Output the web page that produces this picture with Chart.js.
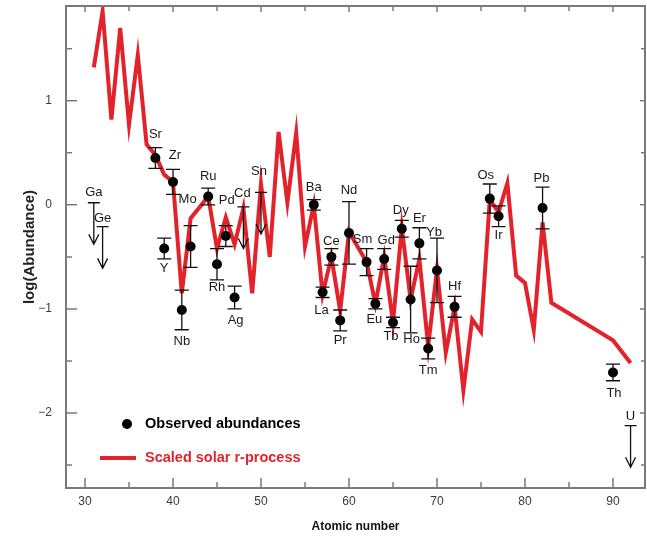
<!DOCTYPE html>
<html>
<head>
<meta charset="utf-8">
<script src="https://cdn.jsdelivr.net/npm/chart.js@4.4.0/dist/chart.umd.min.js"></script>
<style>
  html, body { margin: 0; padding: 0; background: #fff; }
  #wrap { width: 647px; height: 539px; }
</style>
</head>
<body>
<div id="wrap"><canvas id="abund" width="647" height="539"></canvas></div>
<script>
// ---- data ----

// scaled solar r-process curve (atomic number, log abundance)
const rZ = [31, 32, 33, 34, 35, 36, 37, 38, 39, 40, 41, 42, 44, 45, 46, 47, 48, 49, 50,
  51, 52, 53, 54, 55, 56, 57, 58, 59, 60, 62, 63, 64, 65, 66, 67, 68, 69, 70,
  71, 72, 73, 74, 75, 76, 77, 78, 79, 80, 81, 82, 83, 90, 92];
const rLog = [1.32, 1.86, 0.82, 1.70, 0.77, 1.44, 0.58, 0.48, 0.29, 0.22, -0.85, -0.13, 0.08, -0.42, -0.12, -0.38, -0.03, -0.85, 0.20,
  -0.50, 0.70, 0.02, 0.69, -0.40, 0.00, -0.86, -0.50, -1.02, -0.26, -0.55, -0.95, -0.50, -1.13, -0.22, -0.91, -0.52, -1.36, -0.62,
  -1.42, -0.98, -1.78, -1.10, -1.22, 0.05, -0.07, 0.21, -0.68, -0.75, -1.20, -0.17, -0.94, -1.30, -1.52];

// observed abundances with symmetric errors
const obsName = ["Sr", "Y", "Zr", "Nb", "Mo", "Ru", "Rh", "Pd", "Ag", "Ba", "La", "Ce", "Pr", "Nd",
  "Sm", "Eu", "Gd", "Tb", "Dy", "Ho", "Er", "Tm", "Yb", "Hf", "Os", "Ir", "Pb", "Th"];
const obsZ = [38, 39, 40, 41, 42, 44, 45, 46, 47, 56, 57, 58, 59, 60,
  62, 63, 64, 65, 66, 67, 68, 69, 70, 72, 76, 77, 82, 90];
const obsLog = [0.45, -0.42, 0.22, -1.01, -0.40, 0.08, -0.57, -0.30, -0.89, 0.00, -0.84, -0.50, -1.11, -0.27,
  -0.55, -0.95, -0.52, -1.13, -0.23, -0.91, -0.37, -1.38, -0.63, -0.98, 0.06, -0.11, -0.03, -1.61];
const obsErr = [0.10, 0.10, 0.12, 0.19, 0.20, 0.08, 0.15, 0.10, 0.11, 0.05, 0.05, 0.08, 0.10, 0.30,
  0.13, 0.05, 0.10, 0.05, 0.08, 0.32, 0.15, 0.10, 0.31, 0.10, 0.14, 0.10, 0.20, 0.08];

// upper limits
const limName = ["Ga", "Ge", "Cd", "Sn", "U"];
const limZ = [31, 32, 48, 50, 92];
const limLog = [0.02, -0.21, -0.02, 0.12, -2.12];
const limDrop = 0.4;

const xTicks = [30, 40, 50, 60, 70, 80, 90];
const xMinor = [35, 45, 55, 65, 75, 85];
const yTicks = [-2, -1, 0, 1];
const yMinor = [-2.5, -1.5, -0.5, 0.5, 1.5];

// ---- layout / style ----
const RED = "#e3232b";
const FONT = "'Liberation Sans', Arial, Helvetica, sans-serif";

// label offsets in px from the point (or limit bar)
const labelOffset = {
  Sr: [0, -24], Y: [0, 20], Zr: [2, -27], Nb: [0, 31], Mo: [-3, -47], Ru: [0, -20], Rh: [0, 23],
  Pd: [1, -36], Ag: [1, 23], Ba: [0, -17], La: [-1, 18], Ce: [0, -15], Pr: [0, 20], Nd: [0, -43],
  Sm: [-4, -23], Eu: [-1, 16], Gd: [2, -19], Tb: [-2, 14], Dy: [-1, -18], Ho: [1, 40], Er: [0, -25],
  Tm: [0, 22], Yb: [-3, -38], Hf: [0, -20], Os: [-4, -23], Ir: [0, 19], Pb: [-1, -30], Th: [1, 21],
  Ga: [0, -10], Ge: [0, -8], Cd: [-1, -13], Sn: [-2, -21], U: [0, -9]
};

const annotate = {
  id: "annotate",
  afterDatasetsDraw(chart) {
    const { ctx, scales: { x, y } } = chart;
    ctx.save();
    ctx.strokeStyle = "#111";
    ctx.lineWidth = 1.3;

    // error bars
    obsZ.forEach((z, i) => {
      const px = x.getPixelForValue(z);
      const hi = y.getPixelForValue(obsLog[i] + obsErr[i]);
      const lo = y.getPixelForValue(obsLog[i] - obsErr[i]);
      ctx.beginPath();
      ctx.moveTo(px, hi); ctx.lineTo(px, lo);
      ctx.moveTo(px - 7, hi); ctx.lineTo(px + 7, hi);
      ctx.moveTo(px - 7, lo); ctx.lineTo(px + 7, lo);
      ctx.stroke();
    });

    // upper limit arrows
    limZ.forEach((z, i) => {
      const px = x.getPixelForValue(z);
      const top = y.getPixelForValue(limLog[i]);
      const tip = y.getPixelForValue(limLog[i] - limDrop);
      ctx.beginPath();
      ctx.moveTo(px - 6, top); ctx.lineTo(px + 6, top);
      ctx.moveTo(px, top); ctx.lineTo(px, tip);
      ctx.moveTo(px - 5, tip - 10); ctx.lineTo(px, tip); ctx.lineTo(px + 5, tip - 10);
      ctx.stroke();
    });

    // element labels
    ctx.fillStyle = "#1a1a1a";
    ctx.font = "13px " + FONT;
    ctx.textAlign = "center";
    ctx.textBaseline = "middle";
    obsName.forEach((n, i) => {
      const [dx, dy] = labelOffset[n];
      ctx.fillText(n, x.getPixelForValue(obsZ[i]) + dx, y.getPixelForValue(obsLog[i]) + dy);
    });
    limName.forEach((n, i) => {
      const [dx, dy] = labelOffset[n];
      ctx.fillText(n, x.getPixelForValue(limZ[i]) + dx, y.getPixelForValue(limLog[i]) + dy);
    });
    ctx.restore();
  },
  afterDraw(chart) {
    const { ctx, chartArea: a, scales: { x, y } } = chart;
    ctx.save();

    // legend inside the plot
    ctx.fillStyle = "#000";
    ctx.beginPath();
    ctx.arc(127, 424, 5, 0, Math.PI * 2);
    ctx.fill();
    ctx.font = "bold 14.5px " + FONT;
    ctx.textBaseline = "middle";
    ctx.textAlign = "left";
    ctx.fillText("Observed abundances", 145, 424);
    ctx.strokeStyle = RED;
    ctx.lineWidth = 4;
    ctx.beginPath();
    ctx.moveTo(100, 458); ctx.lineTo(136, 458);
    ctx.stroke();
    ctx.fillStyle = RED;
    ctx.fillText("Scaled solar r-process", 145, 458);

    // frame and inward ticks on all sides
    ctx.strokeStyle = "#7a7a7a";
    ctx.lineWidth = 2;
    ctx.strokeRect(a.left, a.top, a.right - a.left, a.bottom - a.top);
    ctx.lineWidth = 1.5;
    ctx.beginPath();
    const tickX = (v, lenB, lenT) => {
      const px = x.getPixelForValue(v);
      ctx.moveTo(px, a.bottom); ctx.lineTo(px, a.bottom - lenB);
      ctx.moveTo(px, a.top); ctx.lineTo(px, a.top + lenT);
    };
    const tickY = (v, lenL, lenR) => {
      const py = y.getPixelForValue(v);
      ctx.moveTo(a.left, py); ctx.lineTo(a.left + lenL, py);
      ctx.moveTo(a.right, py); ctx.lineTo(a.right - lenR, py);
    };
    xTicks.forEach(v => tickX(v, 10, 6));
    xMinor.forEach(v => tickX(v, 6, 5));
    yTicks.forEach(v => tickY(v, 11, 5));
    yMinor.forEach(v => tickY(v, 6, 4));
    ctx.stroke();
    ctx.restore();
  }
};

Chart.register(annotate);

const ctx = document.getElementById("abund").getContext("2d");

new Chart(ctx, {
  type: "scatter",
  data: {
    datasets: [
      {
        label: "Observed abundances",
        data: obsZ.map((z, i) => ({ x: z, y: obsLog[i] })),
        pointRadius: 5,
        pointBackgroundColor: "#000",
        pointBorderWidth: 0
      },
      {
        label: "Scaled solar r-process",
        data: rZ.map((z, i) => ({ x: z, y: rLog[i] })),
        showLine: true,
        borderColor: RED,
        borderWidth: 4,
        borderJoinStyle: "miter",
        pointRadius: 0,
        tension: 0
      }
    ]
  },
  options: {
    responsive: false,
    animation: false,
    devicePixelRatio: 1,
    layout: { autoPadding: false, padding: { left: 0, top: 6, right: 2, bottom: 0 } },
    plugins: { legend: { display: false }, tooltip: { enabled: false } },
    scales: {
      x: {
        type: "linear",
        min: 27.84,
        max: 93.64,
        afterBuildTicks: s => { s.ticks = xTicks.map(v => ({ value: v })); },
        afterFit: s => { s.height = 51; s.paddingLeft = 0; s.paddingRight = 0; },
        grid: { display: false, drawTicks: false },
        border: { display: false },
        ticks: { padding: 6, color: "#3a3a3a", font: { family: FONT, size: 12 } },
        title: {
          display: true, text: "Atomic number", color: "#111",
          font: { family: FONT, size: 12, weight: "bold" }, padding: { top: 0, bottom: 5 }
        }
      },
      y: {
        type: "linear",
        min: -2.72,
        max: 1.91,
        afterBuildTicks: s => { s.ticks = yTicks.map(v => ({ value: v })); },
        afterFit: s => { s.width = 66; s.paddingTop = 0; s.paddingBottom = 0; },
        grid: { display: false, drawTicks: false },
        border: { display: false },
        ticks: {
          padding: 14, color: "#3a3a3a", font: { family: FONT, size: 12 },
          callback: v => (v < 0 ? "\u2212" + Math.abs(v) : String(v))
        },
        title: {
          display: true, text: "log(Abundance)", color: "#222",
          font: { family: FONT, size: 15, weight: "bold" }, padding: { top: 21, bottom: 0 }
        }
      }
    }
  }
});
</script>
</body>
</html>
